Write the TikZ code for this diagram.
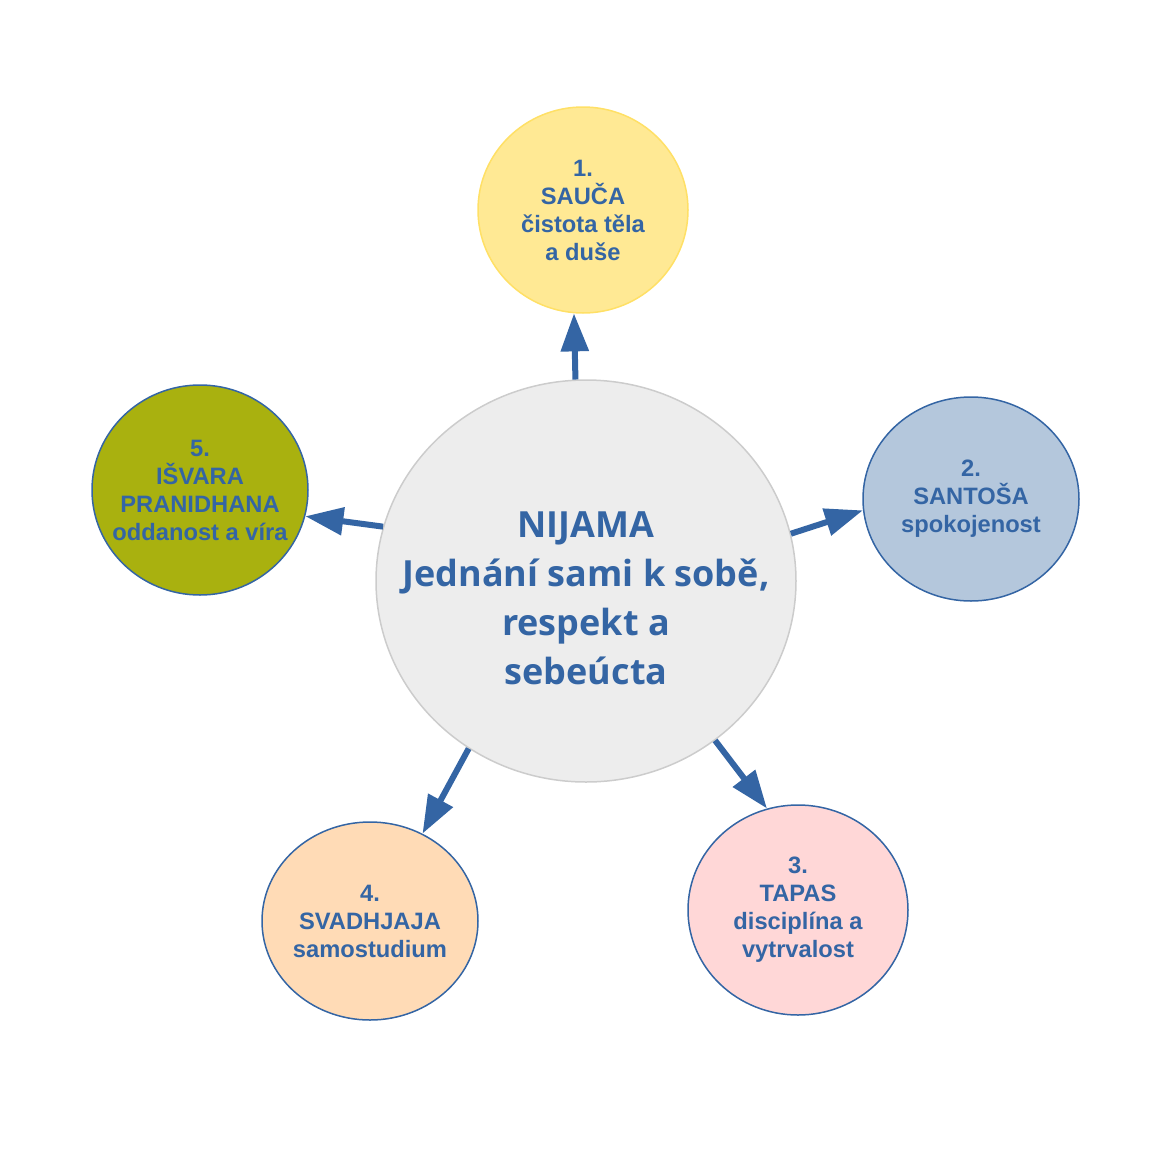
\documentclass[tikz,border=0pt]{standalone}
\usepackage{fontspec}
\setmainfont{Liberation Sans}
\newfontfamily\nijamafont{Open Sans}
\usetikzlibrary{shapes.geometric,arrows.meta}
\definecolor{textblue}{HTML}{3465A4}
\definecolor{saucafill}{HTML}{FFE994}
\definecolor{saucaline}{HTML}{FFE066}
\definecolor{santosafill}{HTML}{B4C7DC}
\definecolor{tapasfill}{HTML}{FFD7D7}
\definecolor{svadhjajafill}{HTML}{FFDBB6}
\definecolor{isvarafill}{HTML}{A9B10F}
\begin{document}
\begin{tikzpicture}[x=1pt,y=-1pt,
    bubble/.style={ellipse,draw=textblue,line width=1.5pt,inner sep=-40pt,align=center,text=textblue,
        font=\bfseries\fontsize{23.7}{28}\selectfont},
    arrow/.style={-{Triangle[length=38pt,width=27pt]},draw=textblue,line width=6pt}]
    \useasboundingbox (0,0) rectangle (1170,1170);
            \node[ellipse,fill=black!7,draw=black!20,line width=1.5pt,minimum width=420pt,minimum height=402pt,
                label={[align=center,text=textblue,yshift=-17pt,font=\nijamafont\bfseries\fontsize{36}{49}\selectfont]center:{NIJAMA\\Jednání sami k sobě,\\respekt a\\sebeúcta}}](nijama) at (586,581){};
            \node[bubble,fill=saucafill,draw=saucaline,minimum width=210pt,minimum height=206pt](sauca) at (583,210){1.\\SAUČA\\čistota těla\\a duše};
            \node[bubble,fill=santosafill,minimum width=216pt,minimum height=204pt](santosa) at (971,499){2.\\SANTOŠA\\spokojenost};
            \node[bubble,fill=tapasfill,minimum width=220pt,minimum height=210pt](tapas) at (798,910){3.\\TAPAS\\disciplína a\\vytrvalost};
            \node[bubble,fill=svadhjajafill,minimum width=216pt,minimum height=198pt](svadhjaja) at (370,921){4.\\SVADHJAJA\\samostudium};
            \node[bubble,fill=isvarafill,minimum width=216pt,minimum height=210pt](isvara) at (200,490){5.\\IŠVARA\\PRANIDHANA\\oddanost a víra};
            \draw[arrow] (nijama.93.4) -- (sauca.265);
            \draw[arrow] (nijama.13.5) -- (santosa.186.8);
            \draw[arrow] (nijama.309.8) -- (tapas.107.4);
            \draw[arrow] (nijama.235.7) -- (svadhjaja.59.8);
            \draw[arrow] (nijama.165.2) -- (isvara.346.6);
        \end{tikzpicture}
\end{document}
